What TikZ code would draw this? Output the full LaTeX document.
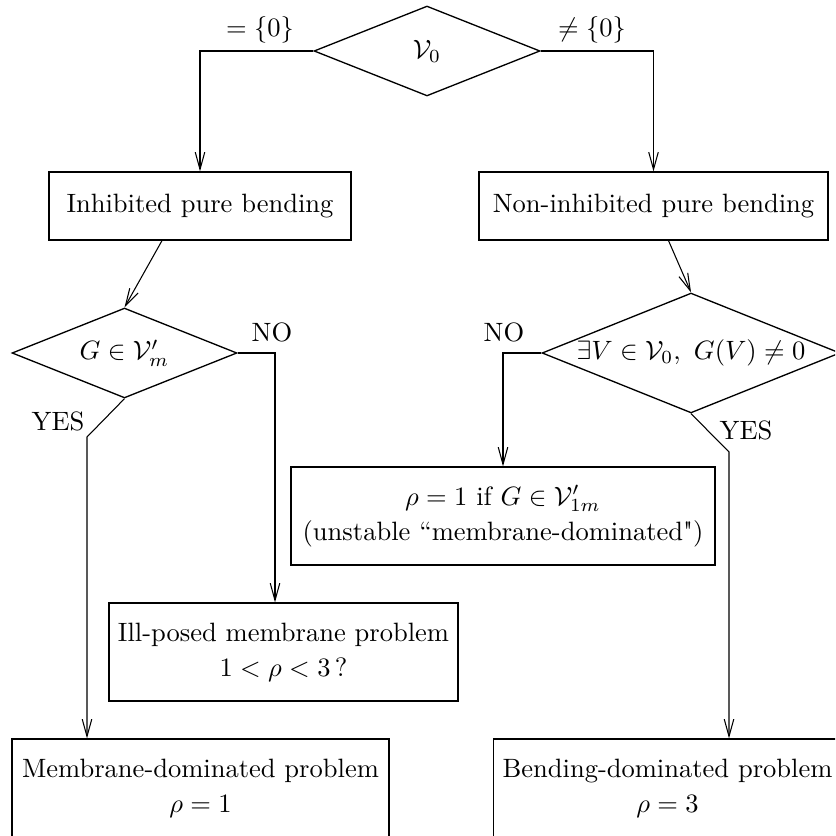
\documentclass[tikz,border=0pt]{standalone}
\usetikzlibrary{shapes.geometric,arrows.meta,calc}
\begin{document}
\begin{tikzpicture}[x=0.377pt,y=-0.377pt,
  caja/.style={draw, rectangle, align=center, line width=0.5pt,
    font=\fontsize{10}{13.2}\selectfont},
  decision/.style={draw, diamond, inner sep=0pt, line width=0.5pt},
  flecha/.style={-{Straight Barb[length=6.5pt,width=3.6pt]}}]
% Marco
\clip (0,0) rectangle (835,836);

% Rombos
\node [decision, aspect=2.51, minimum width=85.2pt, minimum height=33.9pt] (v0) at (427,51) {$\mathcal{V}_0$};
\node [decision, aspect=2.5, minimum width=84.8pt, minimum height=33.9pt] (gdia) at (124.5,353) {$G\in\mathcal{V}'_m$};
\node [decision, aspect=2.48, minimum width=112.3pt, minimum height=45.2pt] (exdia) at (691,353) {$\exists V\in\mathcal{V}_0,\ G(V)\neq 0$};

% Cajas
\node [caja, minimum width=113.9pt, minimum height=25.6pt] (inh) at (200,206) {Inhibited pure bending};
\node [caja, minimum width=131.6pt, minimum height=25.6pt] (noninh) at (653.5,206) {Non-inhibited pure bending};
\node [caja, minimum width=159.8pt, minimum height=36.9pt] (rho1) at (503,516) {$\rho=1$ if $G\in\mathcal{V}'_{1m}$\\(unstable ``membrane-dominated\textquotedbl)};
\node [caja, minimum width=130.8pt, minimum height=36.9pt] (ill) at (283.5,652) {Ill-posed membrane problem\\$1<\rho<3\,$?};
\node [caja, minimum width=142.1pt, minimum height=36.9pt] (memb) at (200.5,788) {Membrane-dominated problem\\$\rho=1$};
\node [caja, minimum width=130.1pt, minimum height=36.9pt] (bend) at (667.5,788) {Bending-dominated problem\\$\rho=3$};

% Puntos de quiebre
\coordinate (yesL) at (87,437);
\coordinate (yesR) at (729,452);

% Flechas
\draw [flecha] (v0.west) -| (inh.north);
\draw [flecha] (v0.east) -| (noninh.north);
\draw [flecha] ($(inh.south)+(-38,0)$) -- (gdia.north);
\draw [flecha] ($(noninh.south)+(15,0)$) -- (exdia.north);
\draw [flecha] (gdia.east) -| ($(ill.north)+(-8.5,0)$);
\draw [flecha] (gdia.south) -- (yesL) -- (yesL |- memb.north);
\draw [flecha] (exdia.west) -| (rho1.north);
\draw [flecha] (exdia.south) -- (yesR) -- (yesR |- bend.north);

% Etiquetas
\node (eq0) at (260,30) {$=\{0\}$};
\node (neq0) at (592,30) {$\neq\{0\}$};
\node (noL) at (272,332) {NO};
\node (noR) at (504,332) {NO};
\node (yesLl) at (58,421) {YES};
\node (yesRl) at (746,430) {YES};
\end{tikzpicture}
\end{document}
